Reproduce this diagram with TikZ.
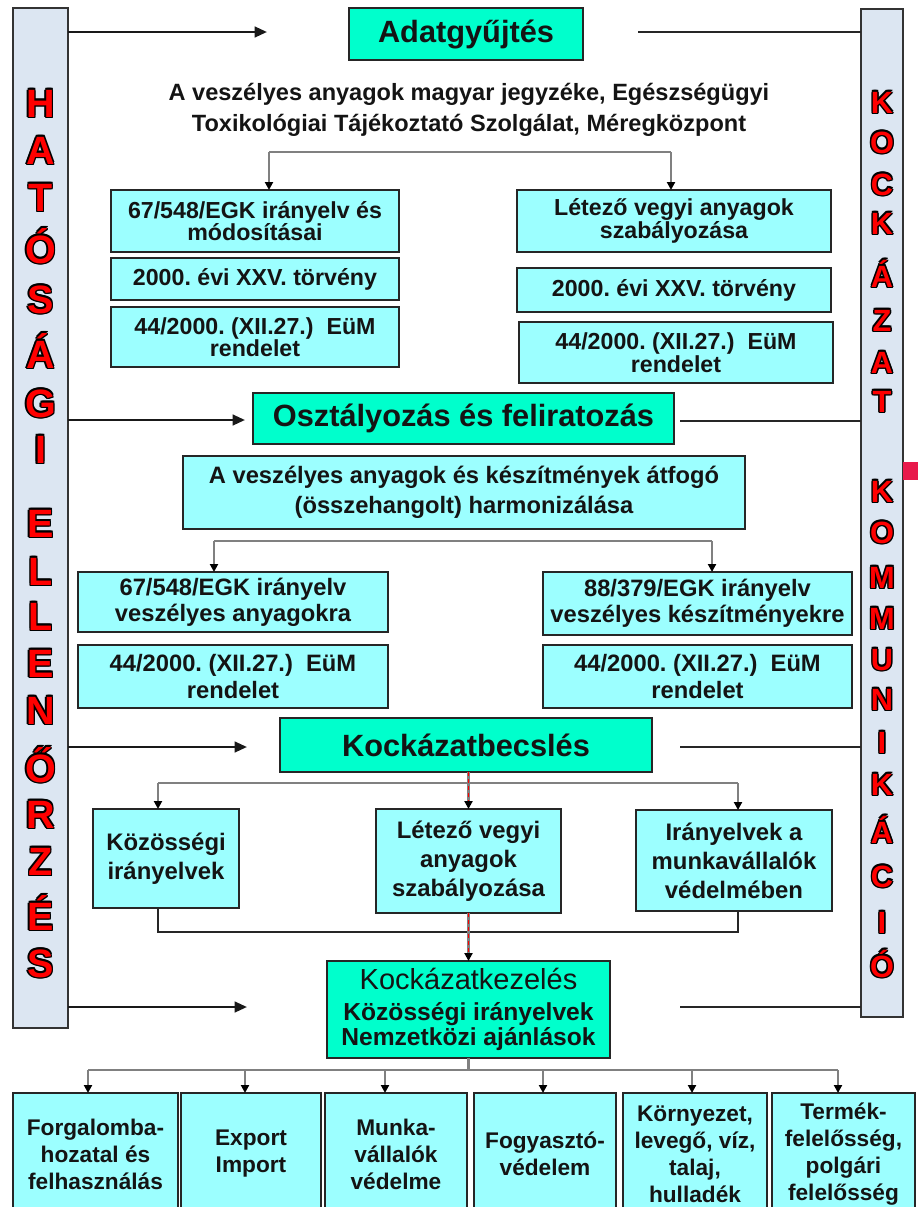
\documentclass[tikz,border=0pt]{standalone}
\usepackage{fontspec}
\setmainfont{Liberation Sans}
\usetikzlibrary{arrows.meta}
\frenchspacing
\definecolor{headgreen}{HTML}{00FFCC}
\definecolor{lcyan}{HTML}{9CFFFF}
\definecolor{barblue}{HTML}{DCE6F2}
\definecolor{tabred}{HTML}{E8194B}
\definecolor{ink}{HTML}{141414}
\newcommand\oc[3]{\rlap{\kern#1\raisebox{#2}{\textcolor{black}{#3}}}}
\newcommand\olet[1]{\oc{0.8pt}{0pt}{#1}\oc{-0.8pt}{0pt}{#1}\oc{0pt}{0.8pt}{#1}\oc{0pt}{-0.8pt}{#1}\oc{0.6pt}{0.6pt}{#1}\oc{-0.6pt}{0.6pt}{#1}\oc{0.6pt}{-0.6pt}{#1}\oc{-0.6pt}{-0.6pt}{#1}\textcolor{red}{#1}}
\newcommand\mybox[7]{\node[#6, minimum width={(#4-(#2))*0.02cm}, minimum height={(#5-(#3))*0.02cm}] (#1) at ({(#2+#4)/2},{(#3+#5)/2}) {#7};}
\tikzset{
  boxbase/.style={draw=black!85, line width=1.1pt, inner sep=0pt, outer sep=0pt, align=center, text=ink},
  gbox/.style={boxbase, fill=headgreen, font=\bfseries\fontsize{17.5}{20}\selectfont},
  cbox/.style={boxbase, fill=lcyan, font=\bfseries\fontsize{13.2}{12.8}\selectfont},
  mbox/.style={boxbase, fill=lcyan, font=\bfseries\fontsize{13.5}{15}\selectfont},
  kbox/.style={boxbase, fill=lcyan, font=\bfseries\fontsize{13.6}{16.5}\selectfont},
  dbox/.style={boxbase, fill=lcyan, font=\bfseries\fontsize{12.9}{15.4}\selectfont},
  barbox/.style={draw=black!80, line width=1pt, fill=barblue, inner sep=0pt, outer sep=0pt},
  lletter/.style={anchor=base, inner sep=0pt, font=\bfseries\fontsize{22.5}{22.5}\selectfont},
  rletter/.style={anchor=base, inner sep=0pt, font=\bfseries\fontsize{17.5}{17.5}\selectfont},
  bararrow/.style={line width=1.4pt, draw=black!90, -{Triangle[length=7pt,width=6pt]}},
  barline/.style={line width=1.1pt, draw=black!85},
  conn/.style={line width=1.3pt, draw=black!50},
  merge/.style={line width=1.1pt, draw=black!85},
  tip/.style={-{Triangle[length=4.5pt,width=4.5pt,color=black]}},
  reddash/.style={line width=1pt, draw=red, dash pattern=on 2pt off 2pt}
}
\begin{document}
\begin{tikzpicture}[x=0.02cm,y=-0.02cm]
\useasboundingbox (0,0) rectangle (918,1207);
% side bars
\mybox{lbar}{13}{8}{68}{1028}{barbox}{}
\mybox{rbar}{861}{9}{903}{1017}{barbox}{}
\fill[tabred] (903,462) rectangle (918,480);
\foreach \ch/\yy [count=\i] in {H/117,A/164,T/211,Ó/263,S/313,Á/368,G/417,I/463,E/537,L/585,L/630,E/677,N/724,Ő/782,R/828,Z/875,É/930,S/977}
  \node[lletter] (l\i) at (40.5,\yy) {\olet{\ch}};
\foreach \ch/\yy [count=\i] in {K/113,O/153,C/195,K/234,Á/287,Z/331,A/373,T/412,K/502,O/543,M/588,M/629,U/670,N/710,I/753,K/795,Á/843,C/887,I/933,Ó/977}
  \node[rletter] (r\i) at (882,\yy) {\olet{\ch}};
% top section
\mybox{adat}{349}{8}{583}{60}{gbox}{Adatgyűjtés}
\node[font=\bfseries\fontsize{13.4}{17.6}\selectfont, align=center, text=ink, inner sep=0pt] (src) at (469,110) {A veszélyes anyagok magyar jegyzéke, Egészségügyi\\Toxikológiai Tájékoztató Szolgálat, Méregközpont};
\mybox{b1}{111}{190}{399}{252}{cbox}{67/548/EGK irányelv és\\módosításai}
\mybox{b2}{111}{258}{399}{300}{cbox}{2000. évi XXV. törvény}
\mybox{b3}{111}{307}{399}{367}{cbox}{44/2000. (XII.27.)\ \ EüM\\rendelet}
\mybox{b4}{517}{190}{831}{252}{cbox}{Létező vegyi anyagok\\szabályozása}
\mybox{b5}{517}{268}{831}{312}{cbox}{2000. évi XXV. törvény}
\mybox{b6}{519}{322}{833}{383}{cbox}{44/2000. (XII.27.)\ \ EüM\\rendelet}
\coordinate (t1) at (269,152);
\coordinate (t2) at (671,152);
\draw[conn] (t1) -- (t2);
\draw[conn,tip] (t1) -- (t1 |- b1.north);
\draw[conn,tip] (t2) -- (t2 |- b4.north);
% middle section
\mybox{oszt}{253}{393}{674}{444}{gbox}{Osztályozás és feliratozás}
\mybox{harm}{183}{456}{745}{529}{mbox}{A veszélyes anyagok és készítmények átfogó\\[2pt](összehangolt) harmonizálása}
\mybox{c1}{78}{572}{388}{632}{mbox}{67/548/EGK irányelv\\veszélyes anyagokra}
\mybox{c2}{78}{645}{388}{708}{mbox}{44/2000. (XII.27.)\ \ EüM\\rendelet}
\mybox{c3}{543}{572}{852}{635}{mbox}{88/379/EGK irányelv\\veszélyes készítményekre}
\mybox{c4}{543}{645}{852}{708}{mbox}{44/2000. (XII.27.)\ \ EüM\\rendelet}
\coordinate (h1) at (214,541);
\coordinate (h2) at (712,541);
\draw[conn] (h1) -- (h2);
\draw[conn,tip] (h1) -- (h1 |- c1.north);
\draw[conn,tip] (h2) -- (h2 |- c3.north);
% risk assessment
\mybox{kb}{280}{718}{652}{772}{gbox}{Kockázatbecslés}
\mybox{k1}{93}{809}{239}{908}{kbox}{Közösségi\\irányelvek}
\mybox{k2}{376}{809}{561}{913}{kbox}{Létező vegyi\\anyagok\\szabályozása}
\mybox{k3}{636}{810}{832}{911}{kbox}{Irányelvek a\\munkavállalók\\védelmében}
\coordinate (g1) at (158,783);
\coordinate (g2) at (738,783);
\draw[conn] (g1) -- (g2);
\draw[conn,tip] (g1) -- (g1 |- k1.north);
\draw[conn,tip] (g2) -- (g2 |- k3.north);
\draw[conn,tip] (kb.south -| k2.north) -- (k2.north);
\draw[reddash] (kb.south -| k2.north) -- ([yshift=5pt]k2.north);
\coordinate (m1) at (158,932);
\coordinate (m2) at (738,932);
\draw[merge] (k1.south -| m1) -- (m1) -- (m2) -- (k3.south -| m2);
% risk management
\mybox{kez}{327}{961}{610}{1058}{gbox, font=\bfseries\fontsize{14}{14.5}\selectfont}{{\mdseries\fontsize{16.5}{17}\selectfont Kockázatkezelés}\\[3pt]Közösségi irányelvek\\Nemzetközi ajánlások}
\draw[conn,tip] (k2.south) -- (kez.north);
\draw[reddash] (k2.south) -- ([yshift=5pt]kez.north);
% bar connectors
\coordinate (la1) at (267,32);
\coordinate (la2) at (245,420);
\coordinate (la3) at (247,747);
\coordinate (la4) at (247,1007);
\draw[bararrow] (lbar.east |- la1) -- (la1);
\draw[bararrow] (lbar.east |- la2) -- (la2);
\draw[bararrow] (lbar.east |- la3) -- (la3);
\draw[bararrow] (lbar.east |- la4) -- (la4);
\coordinate (ra1) at (638,32);
\coordinate (ra2) at (680,421);
\coordinate (ra3) at (680,747);
\coordinate (ra4) at (680,1007);
\draw[barline] (ra1) -- (rbar.west |- ra1);
\draw[barline] (ra2) -- (rbar.west |- ra2);
\draw[barline] (ra3) -- (rbar.west |- ra3);
\draw[barline] (ra4) -- (rbar.west |- ra4);
% bottom row
\mybox{d1}{13}{1093}{178}{1215}{dbox}{Forgalomba-\\hozatal és\\felhasználás}
\mybox{d2}{181}{1093}{321}{1215}{dbox}{Export\\Import}
\mybox{d3}{325}{1093}{467}{1215}{dbox}{Munka-\\vállalók\\védelme}
\mybox{d4}{474}{1093}{616}{1215}{dbox}{Fogyasztó-\\védelem}
\mybox{d5}{623}{1093}{767}{1215}{dbox}{Környezet,\\levegő, víz,\\talaj,\\hulladék}
\mybox{d6}{772}{1093}{915}{1215}{dbox}{Termék-\\felelősség,\\polgári\\felelősség}
\coordinate (bl) at (88,1070);
\coordinate (br) at (838,1070);
\draw[conn] (kez.south) -- (kez.south |- bl);
\draw[conn] (bl) -- (br);
\foreach \xx/\nm in {88/d1,245/d2,385/d3,543/d4,692/d5,838/d6}{
  \coordinate (bt) at (\xx,1070);
  \draw[conn,tip] (bt) -- (bt |- \nm.north);
}
\end{tikzpicture}
\end{document}
